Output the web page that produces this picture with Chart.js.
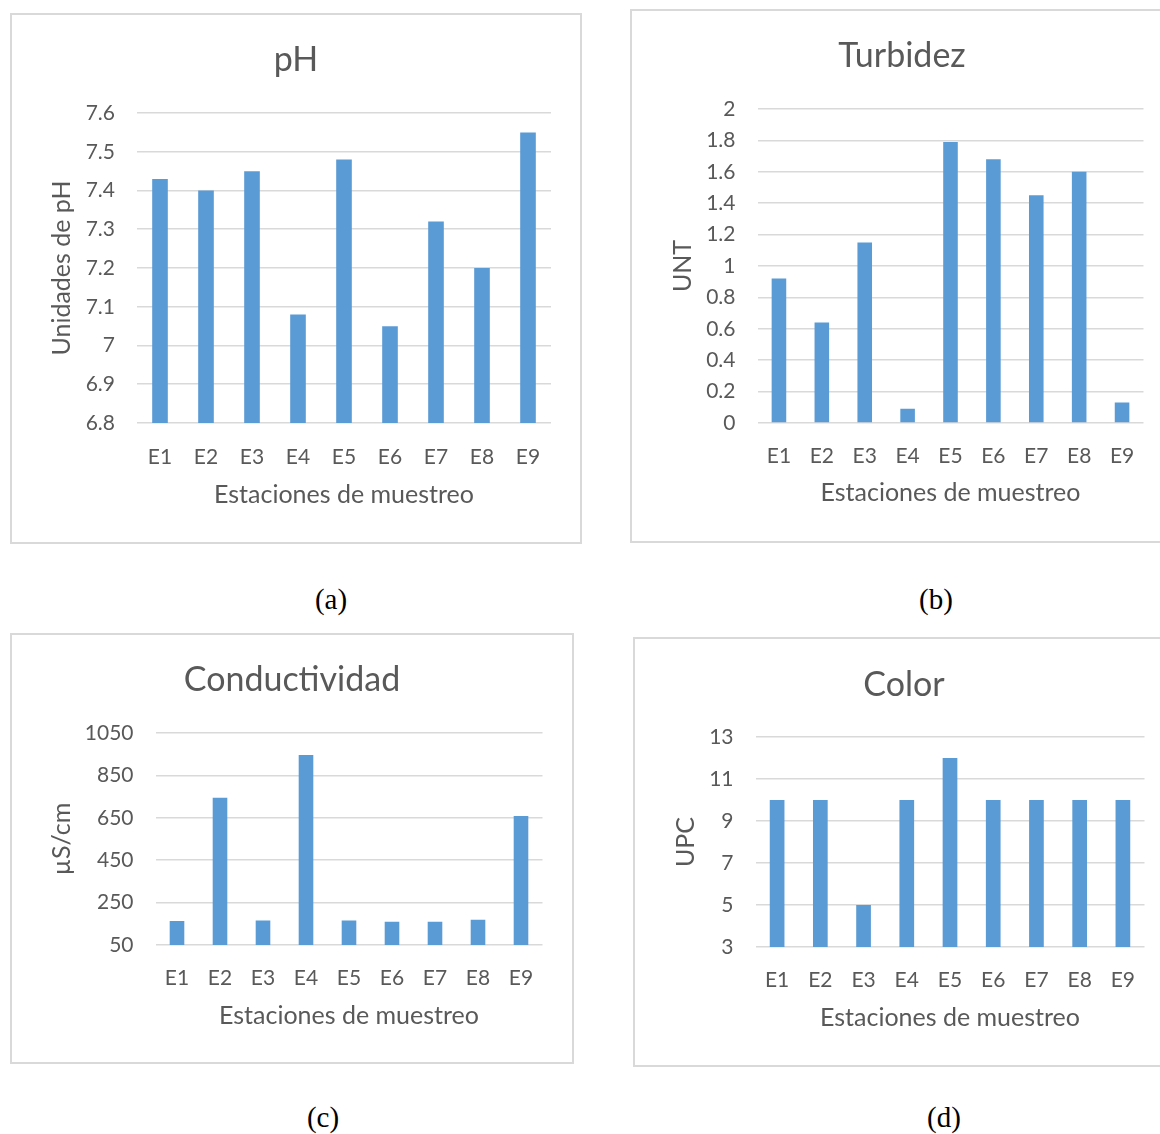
<!DOCTYPE html>
<html lang="es">
<head>
<meta charset="UTF-8" />
<title>Parámetros</title>
<script src="https://cdn.jsdelivr.net/npm/chart.js"></script>
<style>
  html, body { margin: 0; padding: 0; background: #fff; }
  body { width: 1160px; height: 1134px; position: relative; overflow: hidden; }
  .box { position: absolute; box-sizing: border-box; border: 2px solid #d9d9d9; }
  .box canvas { display: block; }
  .cap { position: absolute; font-family: "Liberation Serif", serif; font-size: 29px; color: #000;
         transform: translate(-50%, -50%); white-space: nowrap; }
</style>
</head>
<body>

<div class="box" id="boxA"><canvas id="chartA"></canvas></div>
<div class="box" id="boxB"><canvas id="chartB"></canvas></div>
<div class="box" id="boxC"><canvas id="chartC"></canvas></div>
<div class="box" id="boxD"><canvas id="chartD"></canvas></div>

<div class="cap" style="left:331px; top:599px;">(a)</div>
<div class="cap" style="left:936px; top:599px;">(b)</div>
<div class="cap" style="left:323px; top:1117px;">(c)</div>
<div class="cap" style="left:944px; top:1117px;">(d)</div>

<script>
  // datos
  const estaciones = ['E1', 'E2', 'E3', 'E4', 'E5', 'E6', 'E7', 'E8', 'E9'];
  const phValores = [7.43, 7.40, 7.45, 7.08, 7.48, 7.05, 7.32, 7.20, 7.55];
  const turbidezValores = [0.92, 0.64, 1.15, 0.09, 1.79, 1.68, 1.45, 1.60, 0.13];
  const conductividadValores = [163, 745, 166, 946, 166, 160, 160, 169, 658];
  const colorValores = [10, 10, 5, 10, 12, 10, 10, 10, 10];

  const phEje = [6.8, 7.6, 0.1];
  const turbidezEje = [0, 2, 0.2];
  const conductividadEje = [50, 1050, 200];
  const colorEje = [3, 13, 2];

  const azul = '#5b9bd5';
  const gris = '#595959';
  const fuente = 'Lato, "Open Sans", sans-serif';
  const tamTick = 21, tamEje = 25, tamTitulo = 34;

  function crearGrafico(p) {
    const caja = document.getElementById(p.box);
    caja.style.left = p.L + 'px';
    caja.style.top = p.T + 'px';
    caja.style.width = p.W + 'px';
    caja.style.height = p.H + 'px';

    const ox = p.L + 2, oy = p.T + 2;
    const cw = p.W - 4, ch = p.H - 4;
    const canvas = document.getElementById(p.canvas);
    canvas.width = cw;
    canvas.height = ch;
    canvas.style.width = cw + 'px';
    canvas.style.height = ch + 'px';

    const lhTitulo = tamTitulo * 1.2;
    const lhEje = tamEje * 1.2;
    const titPadTop = p.titleY - oy - lhTitulo / 2;
    const titPadBottom = (p.pt - oy) - titPadTop - lhTitulo;

    new Chart(canvas, {
      type: 'bar',
      data: {
        labels: estaciones,
        datasets: [{
          data: p.valores,
          backgroundColor: azul,
          borderWidth: 0,
          barPercentage: 1,
          categoryPercentage: 0.34
        }]
      },
      options: {
        responsive: false,
        animation: false,
        events: [],
        layout: { padding: 0 },
        plugins: {
          legend: { display: false },
          tooltip: { enabled: false },
          title: {
            display: true,
            text: p.titulo,
            color: gris,
            font: { family: fuente, size: tamTitulo, weight: 'normal' },
            padding: { top: titPadTop, bottom: titPadBottom }
          }
        },
        scales: {
          x: {
            grid: { display: false },
            border: { display: false },
            ticks: {
              color: gris,
              font: { family: fuente, size: tamTick },
              padding: p.xLabelY - p.pb - tamTick * 0.6 - 7,
              maxRotation: 0
            },
            title: {
              display: true,
              text: 'Estaciones de muestreo',
              color: gris,
              font: { family: fuente, size: tamEje },
              padding: { top: 0, bottom: (oy + ch) - p.xTitleY - lhEje / 2 }
            },
            afterFit: s => { s.height = ch - (p.pb - oy); }
          },
          y: {
            min: p.eje[0],
            max: p.eje[1],
            grid: { color: '#d9d9d9', lineWidth: 1.5, drawTicks: false },
            border: { display: false },
            ticks: {
              stepSize: p.eje[2],
              color: gris,
              font: { family: fuente, size: tamTick },
              padding: 22,
              callback: v => String(Number(v.toFixed(2)))
            },
            title: {
              display: true,
              text: p.ejeY,
              color: gris,
              font: { family: fuente, size: tamEje },
              padding: { top: p.yTitleX - ox - lhEje / 2, bottom: 0 }
            },
            afterFit: s => { s.width = p.pl - ox; }
          },
          // eje vacío a la derecha para dejar el margen y centrar el título en la caja
          margen: {
            type: 'linear',
            position: 'right',
            grid: { display: false },
            border: { display: false },
            ticks: { display: false },
            afterFit: s => { s.width = cw - (p.pr - ox); }
          }
        }
      }
    });
  }

  crearGrafico({ box: 'boxA', canvas: 'chartA', L: 10, T: 13, W: 572, H: 531,
    pl: 137, pr: 551, pt: 113, pb: 423, titleY: 60, yTitleX: 62, xLabelY: 456, xTitleY: 495,
    titulo: 'pH', ejeY: 'Unidades de pH', valores: phValores, eje: phEje });

  crearGrafico({ box: 'boxB', canvas: 'chartB', L: 630, T: 9, W: 544, H: 534,
    pl: 757.5, pr: 1143.5, pt: 109, pb: 423, titleY: 56, yTitleX: 683, xLabelY: 455, xTitleY: 493,
    titulo: 'Turbidez', ejeY: 'UNT', valores: turbidezValores, eje: turbidezEje });

  crearGrafico({ box: 'boxC', canvas: 'chartC', L: 10, T: 633, W: 564, H: 431,
    pl: 155.5, pr: 542.5, pt: 733, pb: 945, titleY: 680, yTitleX: 62, xLabelY: 977, xTitleY: 1016,
    titulo: 'Conductividad', ejeY: 'µS/cm', valores: conductividadValores, eje: conductividadEje });

  crearGrafico({ box: 'boxD', canvas: 'chartD', L: 633, T: 637, W: 542, H: 430,
    pl: 755.5, pr: 1144.5, pt: 737, pb: 947, titleY: 685, yTitleX: 686, xLabelY: 979, xTitleY: 1018,
    titulo: 'Color', ejeY: 'UPC', valores: colorValores, eje: colorEje });
</script>
</body>
</html>
